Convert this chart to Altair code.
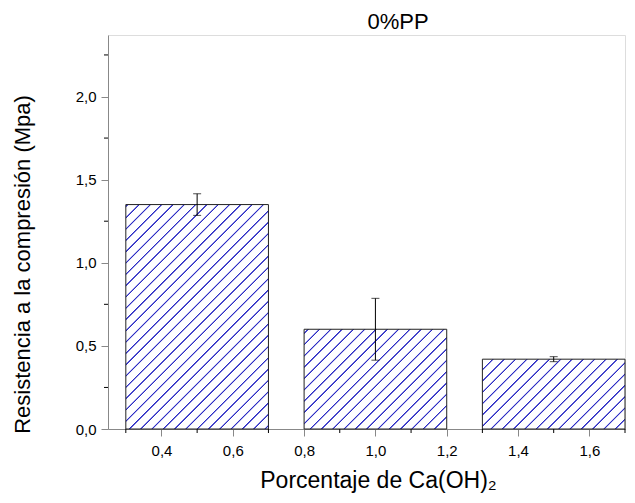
import math
import altair as alt
import pandas as pd

# ---------------- data ----------------
ca_center = [0.5, 1.0, 1.5]          # Porcentaje de Ca(OH)2 (bar centres)
bar_left = [0.3, 0.8, 1.3]
bar_right = [0.7, 1.2, 1.7]
strength = [1.35, 0.60, 0.42]        # Resistencia a la compresión (MPa)
err = [0.065, 0.186, 0.015]

x_ticks = [0.4, 0.6, 0.8, 1.0, 1.2, 1.4, 1.6]
x_minor = [0.3, 0.5, 0.7, 0.9, 1.1, 1.3, 1.5, 1.7]
y_ticks = [0.0, 0.5, 1.0, 1.5, 2.0]
y_minor = [0.25, 0.75, 1.25, 1.75, 2.25]

title_text = ["0%PP"]

X_DOMAIN = [0.25, 1.7]
Y_DOMAIN = [0.0, 2.37]

# ---------------- layout ----------------
W, H = 517, 394
PAD_L, PAD_T, PAD_R, PAD_B = 100, 27, 2, 66
FONT = "Liberation Sans"
HATCH = "#2b2bc4"

sx = W / (X_DOMAIN[1] - X_DOMAIN[0])
sy = H / (Y_DOMAIN[1] - Y_DOMAIN[0])

df = pd.DataFrame({
    "x": ca_center, "xl": bar_left, "xr": bar_right,
    "y": strength, "err": err,
})
df["lo"] = df["y"] - df["err"]
df["hi"] = df["y"] + df["err"]


def hatch_gradient(w, h, gx, gy, spacing=11.3):
    """Diagonal '/' hatch as a linear gradient in the bar's bounding box."""
    L = w + h
    a = L / (w * w + h * h)
    F0 = gx + gy
    stops = [alt.GradientStop(color="white", offset=0)]
    k = math.ceil((F0 + 1.4) / spacing)
    while True:
        fc = k * spacing - F0
        if fc + 1.4 >= L:
            break
        for f, col in [(fc - 1.2, "white"), (fc - 0.4, HATCH),
                       (fc + 0.4, HATCH), (fc + 1.2, "white")]:
            stops.append(alt.GradientStop(color=col, offset=round(f / L, 5)))
        k += 1
    stops.append(alt.GradientStop(color="white", offset=1))
    return alt.Gradient(gradient="linear", stops=stops,
                        x1=0, y1=0, x2=round(w * a, 5), y2=round(h * a, 5))


x_scale = alt.Scale(domain=X_DOMAIN, nice=False, zero=False)
y_scale = alt.Scale(domain=Y_DOMAIN, nice=False, zero=False)

x_axis = alt.Axis(
    values=x_ticks, labelExpr="replace(format(datum.value, '.1f'), '.', ',')",
    title="Porcentaje de Ca(OH)₂", titleFontSize=23, titleFont=FONT,
    titleFontWeight="normal", titleX=270, titleY=58, titleAlign="center",
    titleBaseline="alphabetic", tickSize=7, labelPadding=7,
    labelFontSize=15, labelFont=FONT, grid=False,
)
y_axis = alt.Axis(
    values=y_ticks, labelExpr="replace(format(datum.value, '.1f'), '.', ',')",
    title="Resistencia a la compresión (Mpa)", titleFontSize=22,
    titleFont=FONT, titleFontWeight="normal", titleX=-86, titleY=229,
    titleAngle=270, titleAlign="center", titleBaseline="middle",
    tickSize=7, labelPadding=5, labelFontSize=15, labelFont=FONT, grid=False,
)

layers = []
for i in range(len(strength)):
    w = (bar_right[i] - bar_left[i]) * sx
    h = strength[i] * sy
    gx = PAD_L + (bar_left[i] - X_DOMAIN[0]) * sx
    gy = PAD_T + (Y_DOMAIN[1] - strength[i]) * sy
    grad = hatch_gradient(w, h, gx, gy)
    bar = alt.Chart(df).transform_filter(
        alt.datum.x == ca_center[i]
    ).mark_rect(fill=grad, stroke="#222222", strokeWidth=1).encode(
        x=alt.X("xl:Q", scale=x_scale, axis=x_axis),
        x2="xr:Q",
        y=alt.Y("y:Q", scale=y_scale, axis=y_axis),
        y2=alt.datum(0),
    )
    layers.append(bar)

err_rule = alt.Chart(df).mark_rule(color="black", strokeWidth=1).encode(
    x=alt.X("x:Q", scale=x_scale, axis=x_axis),
    y=alt.Y("lo:Q", scale=y_scale, axis=y_axis),
    y2="hi:Q",
)
cap_lo = alt.Chart(df).mark_tick(orient="horizontal", color="black",
                                 size=8, thickness=1).encode(
    x=alt.X("x:Q", scale=x_scale, axis=x_axis),
    y=alt.Y("lo:Q", scale=y_scale, axis=y_axis),
)
cap_hi = alt.Chart(df).mark_tick(orient="horizontal", color="black",
                                 size=8, thickness=1).encode(
    x=alt.X("x:Q", scale=x_scale, axis=x_axis),
    y=alt.Y("hi:Q", scale=y_scale, axis=y_axis),
)

xm = alt.Chart(pd.DataFrame({"v": x_minor})).mark_rule(
    color="black", strokeWidth=1).encode(
    x=alt.X("v:Q", scale=x_scale, axis=x_axis),
    y=alt.value(H), y2=alt.value(H + 4),
)
ym = alt.Chart(pd.DataFrame({"v": y_minor})).mark_rule(
    color="black", strokeWidth=1).encode(
    y=alt.Y("v:Q", scale=y_scale, axis=y_axis),
    x=alt.value(0), x2=alt.value(-4),
)

title = alt.Chart(pd.DataFrame({"t": title_text})).mark_text(
    font=FONT, fontSize=22, color="black", align="center",
    baseline="alphabetic",
).encode(text="t:N", x=alt.value(290), y=alt.value(-6))

chart = alt.layer(*layers, err_rule, cap_lo, cap_hi, xm, ym, title).properties(
    width=W, height=H,
    autosize="none",
    padding={"left": PAD_L, "top": PAD_T, "right": PAD_R, "bottom": PAD_B},
).configure_view(stroke=None).configure_axis(
    domainColor="black", tickColor="black", labelColor="black",
    titleColor="black", domainWidth=1, tickWidth=1,
).configure(background="white")

chart.save("out.html", embed_options={"renderer": "svg", "actions": False})
